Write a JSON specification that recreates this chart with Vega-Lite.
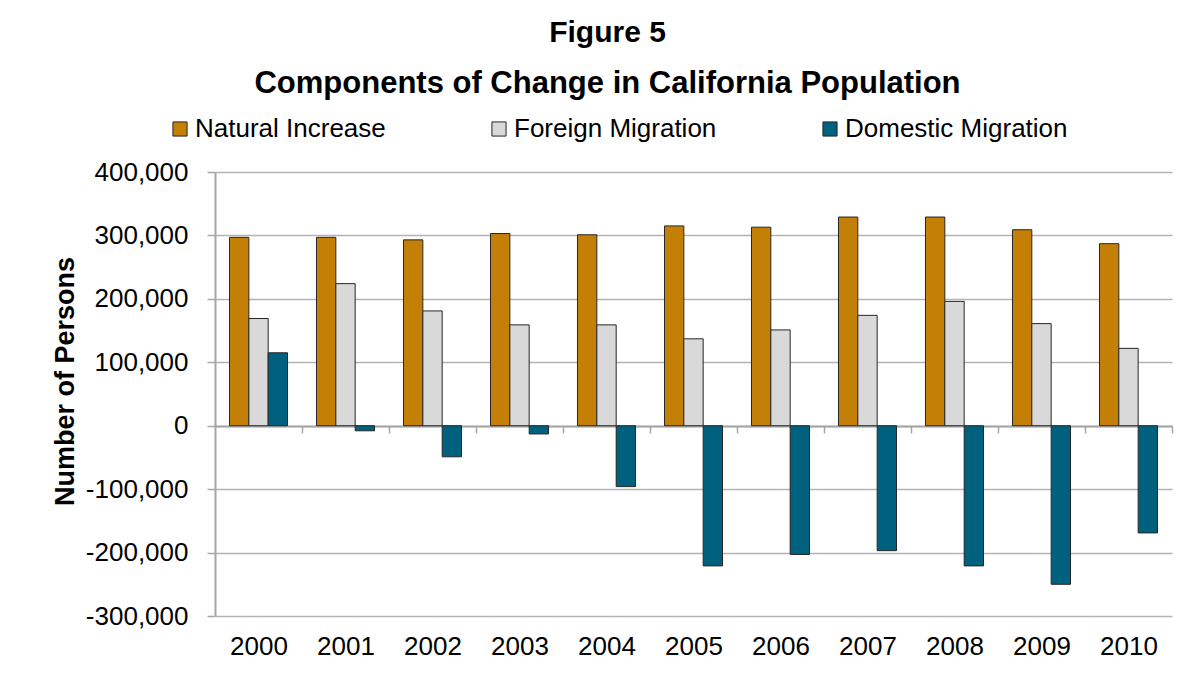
{
  "$schema": "https://vega.github.io/schema/vega-lite/v6.json",
  "width": 957,
  "height": 444,
  "autosize": "none",
  "padding": {"left": 215, "top": 172, "right": 26, "bottom": 65},
  "background": "white",
  "title": {
    "text": "Figure 5",
    "subtitle": "Components of Change in California Population",
    "anchor": "middle",
    "frame": "group",
    "dx": -86,
    "offset": 17,
    "font": "Liberation Sans",
    "fontSize": 30,
    "fontWeight": "bold",
    "color": "black",
    "subtitleFont": "Liberation Sans",
    "subtitleFontSize": 31,
    "subtitleFontWeight": "bold",
    "subtitleColor": "black",
    "subtitlePadding": 21
  },
  "data": {
    "values": [
      {"year": "2000", "series": "Natural Increase", "value": 297000},
      {"year": "2000", "series": "Foreign Migration", "value": 169000},
      {"year": "2000", "series": "Domestic Migration", "value": 115000},
      {"year": "2001", "series": "Natural Increase", "value": 297000},
      {"year": "2001", "series": "Foreign Migration", "value": 224000},
      {"year": "2001", "series": "Domestic Migration", "value": -8000},
      {"year": "2002", "series": "Natural Increase", "value": 293000},
      {"year": "2002", "series": "Foreign Migration", "value": 181000},
      {"year": "2002", "series": "Domestic Migration", "value": -49000},
      {"year": "2003", "series": "Natural Increase", "value": 303000},
      {"year": "2003", "series": "Foreign Migration", "value": 159000},
      {"year": "2003", "series": "Domestic Migration", "value": -13000},
      {"year": "2004", "series": "Natural Increase", "value": 301000},
      {"year": "2004", "series": "Foreign Migration", "value": 159000},
      {"year": "2004", "series": "Domestic Migration", "value": -96000},
      {"year": "2005", "series": "Natural Increase", "value": 315000},
      {"year": "2005", "series": "Foreign Migration", "value": 137000},
      {"year": "2005", "series": "Domestic Migration", "value": -221000},
      {"year": "2006", "series": "Natural Increase", "value": 313000},
      {"year": "2006", "series": "Foreign Migration", "value": 151000},
      {"year": "2006", "series": "Domestic Migration", "value": -203000},
      {"year": "2007", "series": "Natural Increase", "value": 329000},
      {"year": "2007", "series": "Foreign Migration", "value": 174000},
      {"year": "2007", "series": "Domestic Migration", "value": -197000},
      {"year": "2008", "series": "Natural Increase", "value": 329000},
      {"year": "2008", "series": "Foreign Migration", "value": 196000},
      {"year": "2008", "series": "Domestic Migration", "value": -221000},
      {"year": "2009", "series": "Natural Increase", "value": 309000},
      {"year": "2009", "series": "Foreign Migration", "value": 161000},
      {"year": "2009", "series": "Domestic Migration", "value": -250000},
      {"year": "2010", "series": "Natural Increase", "value": 287000},
      {"year": "2010", "series": "Foreign Migration", "value": 122000},
      {"year": "2010", "series": "Domestic Migration", "value": -169000}
    ]
  },
  "mark": {"type": "bar", "stroke": "#262626", "strokeWidth": 1},
  "encoding": {
    "x": {
      "field": "year",
      "type": "nominal",
      "scale": {"paddingInner": 0.333, "paddingOuter": 0.1667},
      "axis": {
        "title": null,
        "orient": "bottom",
        "offset": -190,
        "labelAngle": 0,
        "labelFont": "Liberation Sans",
        "labelFontSize": 26,
        "labelColor": "black",
        "labelPadding": 200,
        "labelOffset": -43.5,
        "domain": true,
        "domainColor": "#a6a6a6",
        "domainWidth": 2,
        "ticks": true,
        "tickOffset": 43.5,
        "tickSize": 7,
        "tickColor": "#a6a6a6",
        "tickWidth": 1.5,
        "grid": false
      }
    },
    "xOffset": {
      "field": "series",
      "type": "nominal",
      "sort": ["Natural Increase", "Foreign Migration", "Domestic Migration"],
      "scale": {"paddingInner": 0, "paddingOuter": 0}
    },
    "y": {
      "field": "value",
      "type": "quantitative",
      "scale": {"domain": [-300000, 400000], "nice": false},
      "axis": {
        "title": "Number of Persons",
        "titleFont": "Liberation Sans",
        "titleFontSize": 27,
        "titleFontWeight": "bold",
        "titleColor": "black",
        "titleAngle": -90,
        "titleX": -142,
        "titleY": 209,
        "titleAlign": "center",
        "titleBaseline": "alphabetic",
        "values": [-300000, -200000, -100000, 0, 100000, 200000, 300000, 400000],
        "labelExpr": "replace(format(datum.value, ','), '\u2212', '-')",
        "labelFont": "Liberation Sans",
        "labelFontSize": 26,
        "labelColor": "black",
        "labelPadding": 19,
        "tickSize": 8,
        "tickColor": "#a6a6a6",
        "tickWidth": 1.5,
        "domainColor": "#a6a6a6",
        "domainWidth": 2,
        "grid": true,
        "gridColor": "#b3b3b3",
        "gridWidth": 1.5
      }
    },
    "color": {
      "field": "series",
      "type": "nominal",
      "scale": {
        "domain": ["Natural Increase", "Foreign Migration", "Domestic Migration"],
        "range": ["#C47F06", "#D9D9D9", "#00617F"]
      },
      "legend": {
        "title": null,
        "orient": "none",
        "legendX": -48,
        "legendY": -56,
        "direction": "horizontal",
        "labelFont": "Liberation Sans",
        "labelFontSize": 26,
        "labelColor": "black",
        "labelLimit": 400,
        "labelOffset": 2,
        "symbolType": "square",
        "symbolSize": 200,
        "symbolStrokeColor": "#262626",
        "symbolStrokeWidth": 1,
        "symbolOpacity": 1,
        "columnPadding": 100
      }
    }
  },
  "config": {
    "view": {"stroke": null}
  }
}
